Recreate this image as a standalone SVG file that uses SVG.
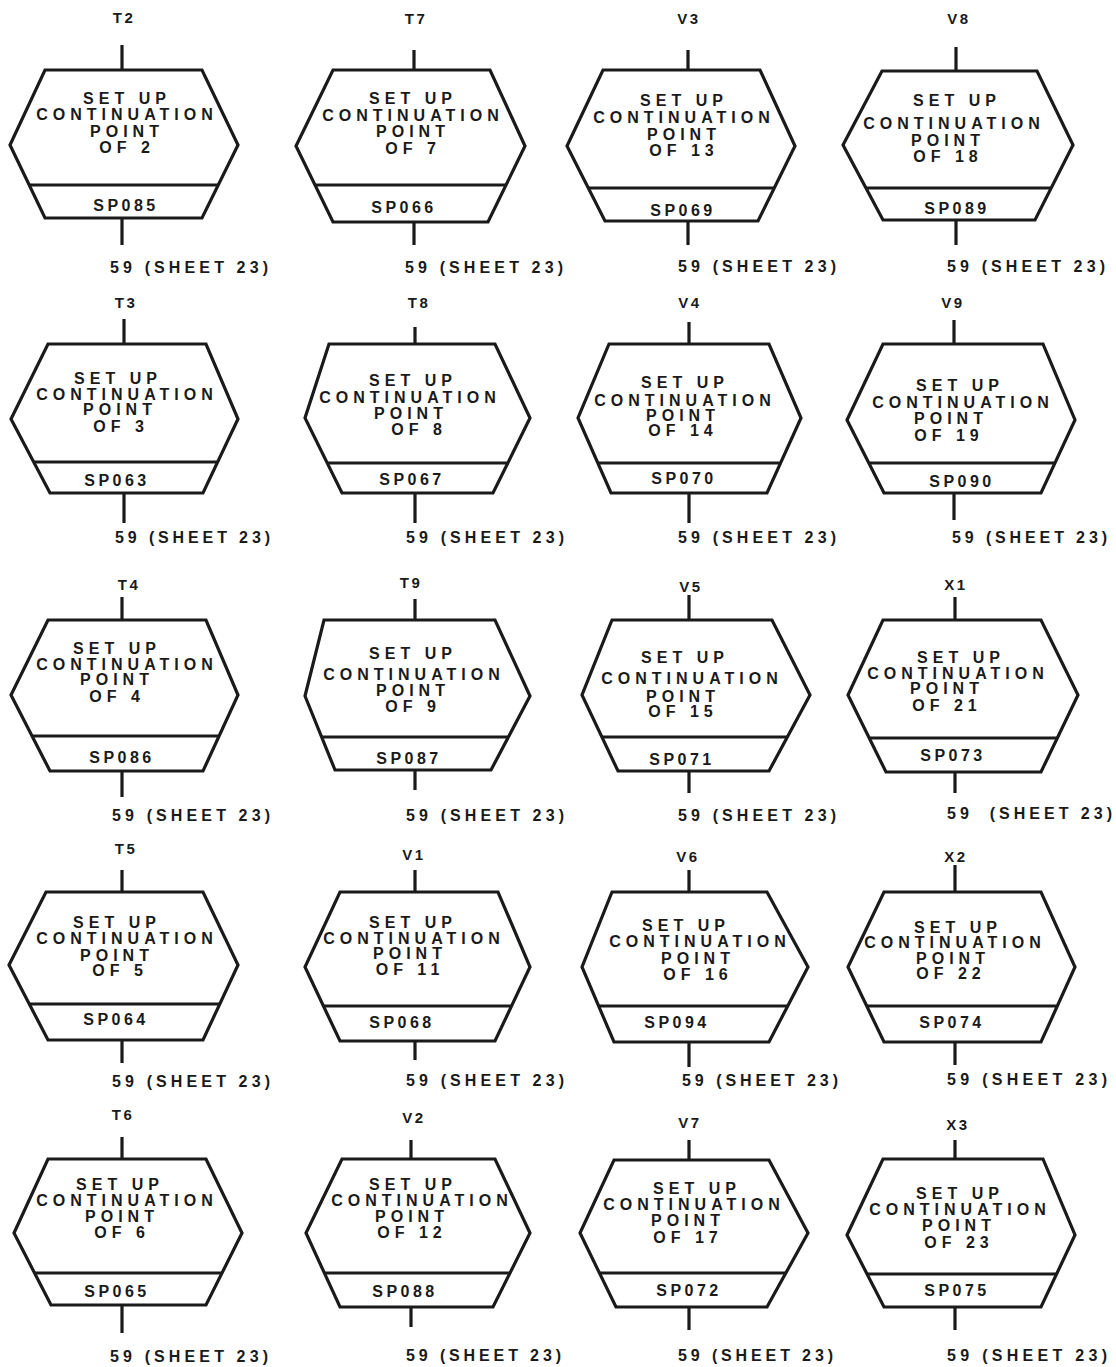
<svg xmlns="http://www.w3.org/2000/svg" width="1116" height="1367" viewBox="0 0 1116 1367">
<style>
.hex{fill:none;stroke:#1a1a1a;stroke-width:3.2;stroke-linejoin:miter}
.div{stroke:#1a1a1a;stroke-width:3.2}
.con{stroke:#1a1a1a;stroke-width:3.2;fill:none}
text{font-family:"Liberation Sans",Arial,sans-serif;font-weight:bold;font-size:16px;fill:#1a1a1a}
.m{text-anchor:middle;letter-spacing:5px}
.sp{text-anchor:middle;letter-spacing:3.5px}
.lb{text-anchor:middle;letter-spacing:2.5px;font-size:15px}
</style>
<rect width="1116" height="1367" fill="#fff"/>
<g id="connectors">
<path class="con" d="M122 45V70M122 218V245M414 50V70M414 222V245M688 50V70M688 221V245M956 47V71M956 220V245"/>
<path class="con" d="M124 319V344M124 493V523M415 327V344M415 493V523M689 322V344M689 493V523M954 320V344M954 493V520"/>
<path class="con" d="M122 597V620M122 771V797M415 599V620M415 770V790M689 595V620M689 771V793M955 597V620M955 772V793"/>
<path class="con" d="M122 870V892M122 1040V1063M415 870V892M415 1041V1060M689 870V892M689 1042V1067M955 865V892M955 1042V1065"/>
<path class="con" d="M122 1137V1159M122 1305V1333M411 1140V1159M411 1307V1327M689 1140V1160M689 1307V1330M955 1140V1159M955 1307V1330"/>
<g id="labels">
<text class="lb" x="124" y="23">T2</text>
<text class="lb" x="416" y="24">T7</text>
<text class="lb" x="689" y="24">V3</text>
<text class="lb" x="959" y="24">V8</text>
<text class="lb" x="126" y="308">T3</text>
<text class="lb" x="419" y="308">T8</text>
<text class="lb" x="690" y="308">V4</text>
<text class="lb" x="953" y="308">V9</text>
<text class="lb" x="129" y="590">T4</text>
<text class="lb" x="411" y="588">T9</text>
<text class="lb" x="691" y="592">V5</text>
<text class="lb" x="956" y="590">X1</text>
<text class="lb" x="126" y="854">T5</text>
<text class="lb" x="414" y="860">V1</text>
<text class="lb" x="688" y="862">V6</text>
<text class="lb" x="956" y="862">X2</text>
<text class="lb" x="123" y="1120">T6</text>
<text class="lb" x="414" y="1123">V2</text>
<text class="lb" x="690" y="1128">V7</text>
<text class="lb" x="958" y="1130">X3</text>
<text x="110" y="273" textLength="158" lengthAdjust="spacing">59 (SHEET 23)</text>
<text x="405" y="273" textLength="158" lengthAdjust="spacing">59 (SHEET 23)</text>
<text x="678" y="272" textLength="158" lengthAdjust="spacing">59 (SHEET 23)</text>
<text x="947" y="272" textLength="158" lengthAdjust="spacing">59 (SHEET 23)</text>
<text x="115" y="543" textLength="155" lengthAdjust="spacing">59 (SHEET 23)</text>
<text x="406" y="543" textLength="158" lengthAdjust="spacing">59 (SHEET 23)</text>
<text x="678" y="543" textLength="158" lengthAdjust="spacing">59 (SHEET 23)</text>
<text x="952" y="543" textLength="155" lengthAdjust="spacing">59 (SHEET 23)</text>
<text x="112" y="821" textLength="158" lengthAdjust="spacing">59 (SHEET 23)</text>
<text x="406" y="821" textLength="158" lengthAdjust="spacing">59 (SHEET 23)</text>
<text x="678" y="821" textLength="158" lengthAdjust="spacing">59 (SHEET 23)</text>
<text x="947" y="819" textLength="165" lengthAdjust="spacing" xml:space="preserve">59  (SHEET 23)</text>
<text x="112" y="1087" textLength="158" lengthAdjust="spacing">59 (SHEET 23)</text>
<text x="406" y="1086" textLength="158" lengthAdjust="spacing">59 (SHEET 23)</text>
<text x="682" y="1086" textLength="156" lengthAdjust="spacing">59 (SHEET 23)</text>
<text x="947" y="1085" textLength="160" lengthAdjust="spacing">59 (SHEET 23)</text>
<text x="110" y="1362" textLength="158" lengthAdjust="spacing">59 (SHEET 23)</text>
<text x="406" y="1361" textLength="155" lengthAdjust="spacing">59 (SHEET 23)</text>
<text x="678" y="1361" textLength="155" lengthAdjust="spacing">59 (SHEET 23)</text>
<text x="947" y="1361" textLength="160" lengthAdjust="spacing">59 (SHEET 23)</text>
</g>
</g>
<g id="n-T2">
<polygon class="hex" points="45,70 202,70 238,145 202,218 45,218 10,145"/>
<line class="div" x1="29" y1="185" x2="218" y2="185"/>
<text class="m" x="127" y="104">SET UP</text><text class="m" x="127" y="120">CONTINUATION</text><text class="m" x="127" y="137">POINT</text><text class="m" x="127" y="153">OF 2</text>
<text class="sp" x="126" y="211">SP085</text>
</g>
<g id="n-T7">
<polygon class="hex" points="333,70 490,70 525,146 488,222 333,222 296,146"/>
<line class="div" x1="315" y1="185" x2="506" y2="185"/>
<text class="m" x="413" y="104">SET UP</text><text class="m" x="413" y="121">CONTINUATION</text><text class="m" x="413" y="137">POINT</text><text class="m" x="413" y="154">OF 7</text>
<text class="sp" x="404" y="213">SP066</text>
</g>
<g id="n-V3">
<polygon class="hex" points="603,70 760,70 795,146 758,221 605,221 567,146"/>
<line class="div" x1="588" y1="188" x2="774" y2="188"/>
<text class="m" x="684" y="106">SET UP</text><text class="m" x="684" y="123">CONTINUATION</text><text class="m" x="684" y="140">POINT</text><text class="m" x="684" y="156">OF 13</text>
<text class="sp" x="683" y="216">SP069</text>
</g>
<g id="n-V8">
<polygon class="hex" points="882,71 1037,71 1073,145 1035,220 883,220 843,145"/>
<line class="div" x1="866" y1="188" x2="1051" y2="188"/>
<text class="m" x="957" y="106">SET UP</text><text class="m" x="954" y="129">CONTINUATION</text><text class="m" x="948" y="146">POINT</text><text class="m" x="948" y="162">OF 18</text>
<text class="sp" x="957" y="214">SP089</text>
</g>
<g id="n-T3">
<polygon class="hex" points="48,344 206,344 238,419 203,493 50,493 11,419"/>
<line class="div" x1="33" y1="462" x2="218" y2="462"/>
<text class="m" x="118" y="384">SET UP</text><text class="m" x="127" y="400">CONTINUATION</text><text class="m" x="120" y="415">POINT</text><text class="m" x="121" y="432">OF 3</text>
<text class="sp" x="117" y="486">SP063</text>
</g>
<g id="n-T8">
<polygon class="hex" points="329,344 495,344 530,418 493,493 342,493 305,418"/>
<line class="div" x1="327" y1="463" x2="508" y2="463"/>
<text class="m" x="413" y="386">SET UP</text><text class="m" x="410" y="403">CONTINUATION</text><text class="m" x="411" y="419">POINT</text><text class="m" x="419" y="435">OF 8</text>
<text class="sp" x="412" y="485">SP067</text>
</g>
<g id="n-V4">
<polygon class="hex" points="609,344 769,344 801,418 767,493 611,493 578,418"/>
<line class="div" x1="598" y1="463" x2="781" y2="463"/>
<text class="m" x="685" y="388">SET UP</text><text class="m" x="685" y="406">CONTINUATION</text><text class="m" x="683" y="421">POINT</text><text class="m" x="683" y="436">OF 14</text>
<text class="sp" x="684" y="484">SP070</text>
</g>
<g id="n-V9">
<polygon class="hex" points="883,344 1043,344 1075,420 1041,493 884,493 847,420"/>
<line class="div" x1="869" y1="463" x2="1055" y2="463"/>
<text class="m" x="960" y="391">SET UP</text><text class="m" x="963" y="408">CONTINUATION</text><text class="m" x="951" y="424">POINT</text><text class="m" x="949" y="441">OF 19</text>
<text class="sp" x="962" y="487">SP090</text>
</g>
<g id="n-T4">
<polygon class="hex" points="48,620 206,620 238,695 203,771 50,771 11,695"/>
<line class="div" x1="32" y1="736" x2="219" y2="736"/>
<text class="m" x="117" y="654">SET UP</text><text class="m" x="127" y="670">CONTINUATION</text><text class="m" x="117" y="685">POINT</text><text class="m" x="117" y="702">OF 4</text>
<text class="sp" x="122" y="763">SP086</text>
</g>
<g id="n-T9">
<polygon class="hex" points="324,620 495,620 530,696 491,770 335,770 305,696"/>
<line class="div" x1="322" y1="737" x2="508" y2="737"/>
<text class="m" x="413" y="659">SET UP</text><text class="m" x="414" y="680">CONTINUATION</text><text class="m" x="413" y="696">POINT</text><text class="m" x="413" y="712">OF 9</text>
<text class="sp" x="409" y="764">SP087</text>
</g>
<g id="n-V5">
<polygon class="hex" points="612,620 772,620 810,695 769,771 618,771 582,695"/>
<line class="div" x1="602" y1="737" x2="787" y2="737"/>
<text class="m" x="685" y="663">SET UP</text><text class="m" x="692" y="684">CONTINUATION</text><text class="m" x="683" y="702">POINT</text><text class="m" x="683" y="717">OF 15</text>
<text class="sp" x="682" y="765">SP071</text>
</g>
<g id="n-X1">
<polygon class="hex" points="883,620 1041,620 1078,695 1041,772 886,772 848,695"/>
<line class="div" x1="869" y1="738" x2="1057" y2="738"/>
<text class="m" x="961" y="663">SET UP</text><text class="m" x="958" y="679">CONTINUATION</text><text class="m" x="947" y="694">POINT</text><text class="m" x="947" y="711">OF 21</text>
<text class="sp" x="953" y="761">SP073</text>
</g>
<g id="n-T5">
<polygon class="hex" points="46,892 203,892 238,965 203,1040 48,1040 9,965"/>
<line class="div" x1="29" y1="1004" x2="220" y2="1004"/>
<text class="m" x="117" y="928">SET UP</text><text class="m" x="127" y="944">CONTINUATION</text><text class="m" x="117" y="961">POINT</text><text class="m" x="120" y="976">OF 5</text>
<text class="sp" x="116" y="1025">SP064</text>
</g>
<g id="n-V1">
<polygon class="hex" points="340,892 498,892 530,967 495,1041 340,1041 305,967"/>
<line class="div" x1="323" y1="1006" x2="512" y2="1006"/>
<text class="m" x="413" y="928">SET UP</text><text class="m" x="414" y="944">CONTINUATION</text><text class="m" x="410" y="959">POINT</text><text class="m" x="410" y="975">OF 11</text>
<text class="sp" x="402" y="1028">SP068</text>
</g>
<g id="n-V6">
<polygon class="hex" points="612,892 767,892 808,967 769,1042 614,1042 582,967"/>
<line class="div" x1="599" y1="1006" x2="788" y2="1006"/>
<text class="m" x="686" y="931">SET UP</text><text class="m" x="700" y="947">CONTINUATION</text><text class="m" x="698" y="964">POINT</text><text class="m" x="698" y="980">OF 16</text>
<text class="sp" x="677" y="1028">SP094</text>
</g>
<g id="n-X2">
<polygon class="hex" points="884,892 1041,892 1075,967 1041,1042 884,1042 848,967"/>
<line class="div" x1="867" y1="1006" x2="1057" y2="1006"/>
<text class="m" x="958" y="933">SET UP</text><text class="m" x="955" y="948">CONTINUATION</text><text class="m" x="953" y="964">POINT</text><text class="m" x="951" y="979">OF 22</text>
<text class="sp" x="952" y="1028">SP074</text>
</g>
<g id="n-T6">
<polygon class="hex" points="48,1159 206,1159 242,1233 206,1305 51,1305 14,1233"/>
<line class="div" x1="34" y1="1273" x2="222" y2="1273"/>
<text class="m" x="120" y="1190">SET UP</text><text class="m" x="127" y="1206">CONTINUATION</text><text class="m" x="122" y="1222">POINT</text><text class="m" x="122" y="1238">OF 6</text>
<text class="sp" x="117" y="1297">SP065</text>
</g>
<g id="n-V2">
<polygon class="hex" points="342,1159 495,1159 530,1233 493,1307 340,1307 306,1233"/>
<line class="div" x1="324" y1="1273" x2="510" y2="1273"/>
<text class="m" x="413" y="1190">SET UP</text><text class="m" x="422" y="1206">CONTINUATION</text><text class="m" x="412" y="1222">POINT</text><text class="m" x="412" y="1238">OF 12</text>
<text class="sp" x="405" y="1297">SP088</text>
</g>
<g id="n-V7">
<polygon class="hex" points="614,1160 769,1160 808,1233 767,1307 616,1307 580,1233"/>
<line class="div" x1="599" y1="1273" x2="786" y2="1273"/>
<text class="m" x="697" y="1194">SET UP</text><text class="m" x="694" y="1210">CONTINUATION</text><text class="m" x="688" y="1226">POINT</text><text class="m" x="688" y="1243">OF 17</text>
<text class="sp" x="689" y="1296">SP072</text>
</g>
<g id="n-X3">
<polygon class="hex" points="883,1159 1043,1159 1075,1235 1041,1307 884,1307 847,1235"/>
<line class="div" x1="867" y1="1274" x2="1057" y2="1274"/>
<text class="m" x="960" y="1199">SET UP</text><text class="m" x="960" y="1215">CONTINUATION</text><text class="m" x="959" y="1231">POINT</text><text class="m" x="959" y="1248">OF 23</text>
<text class="sp" x="957" y="1296">SP075</text>
</g>
</svg>
